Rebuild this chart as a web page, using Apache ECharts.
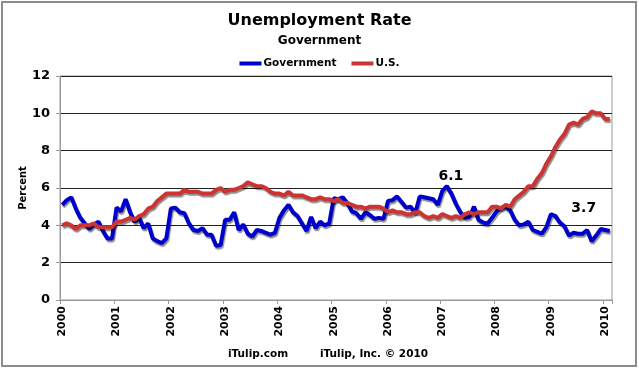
<!DOCTYPE html>
<html><head><meta charset="utf-8">
<script src="https://cdn.jsdelivr.net/npm/echarts@6/dist/echarts.min.js"></script>
<style>html,body{margin:0;padding:0;background:#fff}#c{width:639px;height:369px}</style>
</head><body><div id="c"></div>
<script>
// Monthly categories Jan 2000 - Feb 2010
var months = [];
for (var y = 2000; y <= 2010; y++) {
  for (var m = 1; m <= 12; m++) {
    if (y === 2010 && m > 2) break;
    months.push(y + '-' + (m < 10 ? '0' + m : m));
  }
}
var yTicks = [0, 2, 4, 6, 8, 10, 12];
var government = [
  5.1, 5.35, 5.5, 4.9, 4.4, 4.1, 3.8, 4.05, 4.2, 3.7, 3.3, 3.3,
  4.95, 4.75, 5.4, 4.7, 4.2, 4.4, 3.85, 4.1, 3.3, 3.15, 3.05, 3.3,
  4.9, 4.95, 4.7, 4.65, 4.1, 3.75, 3.7, 3.85, 3.5, 3.5, 2.9, 2.95,
  4.3, 4.3, 4.7, 3.75, 4.05, 3.55, 3.4, 3.75, 3.7, 3.6, 3.5, 3.6,
  4.4, 4.8, 5.1, 4.7, 4.5, 4.1, 3.7, 4.45, 3.85, 4.2, 4.0, 4.1,
  5.45, 5.4, 5.5, 5.2, 4.75, 4.65, 4.35, 4.7, 4.55, 4.35, 4.4, 4.35,
  5.3, 5.35, 5.55, 5.25, 4.95, 5.0, 4.65, 5.55, 5.5, 5.45, 5.4, 5.1,
  5.85, 6.1, 5.7, 5.15, 4.7, 4.4, 4.45, 5.0, 4.3, 4.15, 4.1, 4.4,
  4.75, 4.95, 5.0, 4.8, 4.3, 4.0, 4.05, 4.2, 3.75, 3.65, 3.55, 3.9,
  4.6, 4.5, 4.15, 3.95, 3.45, 3.6, 3.55, 3.55, 3.75, 3.15, 3.45, 3.8,
  3.75, 3.7
];
var us = [
  4.0, 4.1, 4.0, 3.8, 4.0, 4.0, 4.0, 4.1, 3.9, 3.9, 3.9, 3.9,
  4.2, 4.2, 4.3, 4.4, 4.3, 4.5, 4.6, 4.9, 5.0, 5.3, 5.5, 5.7,
  5.7, 5.7, 5.7, 5.9, 5.8, 5.8, 5.8, 5.7, 5.7, 5.7, 5.9, 6.0,
  5.8, 5.9, 5.9, 6.0, 6.1, 6.3, 6.2, 6.1, 6.1, 6.0, 5.8, 5.7,
  5.7, 5.6, 5.8, 5.6, 5.6, 5.6, 5.5, 5.4, 5.4, 5.5, 5.4, 5.4,
  5.3, 5.4, 5.2, 5.2, 5.1, 5.0, 5.0, 4.9, 5.0, 5.0, 5.0, 4.9,
  4.7, 4.8, 4.7, 4.7, 4.6, 4.6, 4.7, 4.7, 4.5, 4.4, 4.5, 4.4,
  4.6, 4.5, 4.4, 4.5, 4.4, 4.6, 4.7, 4.6, 4.7, 4.7, 4.7, 5.0,
  5.0, 4.9, 5.1, 5.0, 5.4, 5.6, 5.8, 6.1, 6.1, 6.5, 6.8, 7.3,
  7.7, 8.2, 8.6, 8.9, 9.4, 9.5, 9.4, 9.7, 9.8, 10.1, 10.0, 10.0,
  9.7, 9.7
];
var labelledGov = {85: [4, 0], 121: [-26, -13]};

var FONT = '"DejaVu Sans", Verdana, sans-serif';
var govData = government.map(function (v, i) {
  if (labelledGov[i]) {
    return {value: v, label: {show: true, position: 'top', distance: 3, offset: labelledGov[i],
      formatter: '{c}', color: '#000', fontFamily: FONT, fontWeight: 'bold', fontSize: 14}};
  }
  return v;
});
var shadow = {shadowColor: 'rgba(0,0,0,0.45)', shadowBlur: 1, shadowOffsetX: 1, shadowOffsetY: 2};

var chart = echarts.init(document.getElementById('c'), null, {renderer: 'canvas'});
chart.setOption({
  animation: false,
  backgroundColor: '#fff',
  title: {
    text: 'Unemployment Rate', subtext: 'Government', left: 'center', top: 8, itemGap: 6,
    textStyle: {fontFamily: FONT, fontWeight: 'bold', fontSize: 16, color: '#000'},
    subtextStyle: {fontFamily: FONT, fontWeight: 'bold', fontSize: 12, color: '#000'}
  },
  legend: {
    top: 53, left: 'center', itemWidth: 22, itemHeight: 4, itemGap: 15, icon: 'rect',
    textStyle: {fontFamily: FONT, fontWeight: 'bold', fontSize: 10.5, color: '#000', padding: [0, 0, 0, -3]},
    data: ['Government', 'U.S.']
  },
  grid: {left: 60, right: 27, top: 76, bottom: 69, show: true, borderColor: '#999', borderWidth: 1},
  xAxis: {
    type: 'category', data: months, boundaryGap: true,
    axisLine: {lineStyle: {color: '#999'}},
    axisTick: {show: true, length: 4, lineStyle: {color: '#999'},
      interval: function (i) { return i % 12 === 0; }},
    axisLabel: {rotate: 90, margin: 6, fontFamily: FONT, fontWeight: 'bold', fontSize: 11, color: '#000',
      interval: function (i) { return i % 12 === 0; },
      formatter: function (v) { return v.slice(0, 4); }},
    splitLine: {show: false}
  },
  yAxis: {
    type: 'value', min: yTicks[0], max: yTicks[yTicks.length - 1], interval: 2,
    name: 'Percent', nameLocation: 'middle', nameGap: 32, nameRotate: 90, nameMoveOverlap: false,
    nameTextStyle: {fontFamily: FONT, fontWeight: 'bold', fontSize: 10, color: '#000'},
    axisLine: {show: true, lineStyle: {color: '#999'}},
    axisTick: {show: true, length: 4, lineStyle: {color: '#999'}},
    axisLabel: {margin: 10, fontFamily: FONT, fontWeight: 'bold', fontSize: 13, color: '#000'},
    splitLine: {show: true, lineStyle: {color: '#222', width: 1}}
  },
  series: [
    {name: 'Government', type: 'line', data: govData, symbol: 'circle', symbolSize: 0, showSymbol: true,
      color: '#0000CC', lineStyle: Object.assign({width: 4, color: '#0000CC'}, shadow), z: 3},
    {name: 'U.S.', type: 'line', data: us, symbol: 'none', color: '#CC3333',
      lineStyle: Object.assign({width: 4, color: '#CC3333'}, shadow), z: 4}
  ],
  graphic: [
    {type: 'rect', shape: {x: 2, y: 2, width: 634, height: 364}, style: {fill: 'none', stroke: '#8c8c8c', lineWidth: 2}, silent: true},
    {type: 'text', left: 228, top: 349, style: {text: 'iTulip.com', font: 'bold 10.5px ' + FONT, fill: '#000'}},
    {type: 'text', left: 320, top: 349, style: {text: 'iTulip, Inc. \u00a9 2010', font: 'bold 10.5px ' + FONT, fill: '#000'}}
  ]
});
</script></body></html>
